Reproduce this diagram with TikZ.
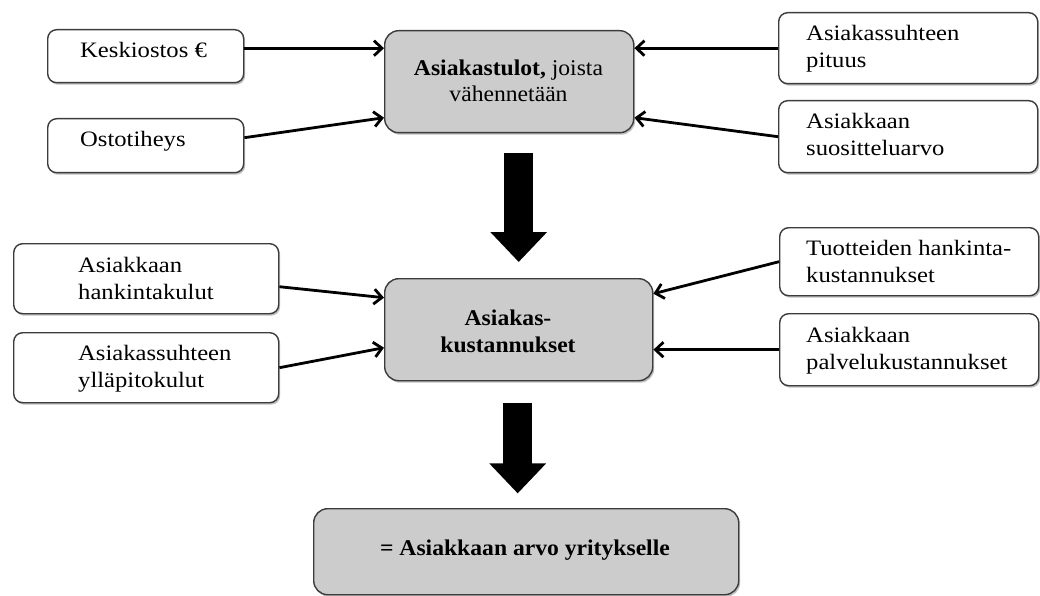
\documentclass[tikz,border=0pt]{standalone}
\usepackage{fontspec}
\setmainfont{Liberation Serif}
\newfontfamily\sidefont[FakeStretch=1.12]{Liberation Serif}
\newfontfamily\corefont[FakeStretch=1.05]{Liberation Serif}
\usetikzlibrary{arrows.meta,calc,shadows}
\definecolor{boxgray}{RGB}{204,204,204}
\definecolor{edgegray}{RGB}{60,60,60}
\tikzset{
  box/.style={draw=edgegray, line width=1.4pt, fill=white, rounded corners=9pt,
    anchor=north west, inner sep=0pt,
    drop shadow={shadow xshift=1.5pt, shadow yshift=-2pt, opacity=0.25, fill=black}},
  corebox/.style={box, fill=boxgray, rounded corners=14pt},
  % the base anchor of a multi-line label sits on its last line
  sidetext/.style={anchor=base west, inner sep=0pt, align=left,
    font=\sidefont\fontsize{22}{27}\selectfont},
  coretext/.style={anchor=base, inner sep=0pt, align=center,
    font=\corefont\fontsize{22.5}{26.5}\selectfont},
  feed/.style={line width=2.8pt, black, -{Straight Barb[length=8pt,width=15pt]}},
  flow/.style={line width=29pt, black, -{Triangle[length=30pt,width=55pt]}}
}
\begin{document}
\begin{tikzpicture}[x=1pt,y=-1pt]
\useasboundingbox (0,0) rectangle (1040,596);

% revenue inputs
\node[box, minimum width=196pt, minimum height=53pt] (k1) at (47,29) {};
\node[box, minimum width=196pt, minimum height=54pt] (k2) at (47,118) {};
\node[box, minimum width=259pt, minimum height=71pt] (r1) at (778,12) {};
\node[box, minimum width=259pt, minimum height=72pt] (r2) at (778,100) {};

% cost inputs
\node[box, minimum width=265pt, minimum height=70pt] (l3) at (13,243) {};
\node[box, minimum width=265pt, minimum height=70pt] (l4) at (13,332) {};
\node[box, minimum width=259pt, minimum height=68pt] (r3) at (779,227) {};
\node[box, minimum width=259pt, minimum height=72pt] (r4) at (779,313) {};

% central chain
\node[corebox, minimum width=249pt, minimum height=102pt] (top) at (384,30) {};
\node[corebox, minimum width=268pt, minimum height=102pt] (mid) at (384,278) {};
\node[corebox, minimum width=425pt, minimum height=86pt] (bot) at (313,508) {};

% labels
\node[sidetext] (k1t) at (80,58) {Keskiostos €};
\node[sidetext] (k2t) at (80,147) {Ostotiheys};
\node[sidetext] (r1t) at (806,68) {Asiakassuhteen\\pituus};
\node[sidetext] (r2t) at (806,156) {Asiakkaan\\suositteluarvo};
\node[sidetext] (l3t) at (78,299) {Asiakkaan\\hankintakulut};
\node[sidetext] (l4t) at (78,387) {Asiakassuhteen\\ylläpitokulut};
\node[sidetext] (r3t) at (806,282) {Tuotteiden hankinta-\\kustannukset};
\node[sidetext] (r4t) at (806,369) {Asiakkaan\\palvelukustannukset};
\node[coretext] (topt) at (508.5,102) {\textbf{Asiakastulot,} joista\\vähennetään};
\node[coretext] (midt) at (508,352) {\textbf{Asiakas-}\\\textbf{kustannukset}};
\node[coretext] (bott) at (525,555) {\textbf{= Asiakkaan arvo yritykselle}};

% feeding arrows
\draw[feed] ($(k1.east)+(0,-8)$) -- (top.west |- {$(k1.east)+(0,-8)$});
\draw[feed] ($(k2.east)+(0,-8)$) -- ($(top.west)+(0,36)$);
\draw[feed] (r1.west) -- (top.east |- r1.west);
\draw[feed] (r2.west) -- ($(top.east)+(0,36)$);
\draw[feed] ($(l3.east)+(0,8)$) -- ($(mid.west)+(0,-32)$);
\draw[feed] (l4.east) -- ($(mid.west)+(0,18)$);
\draw[feed] (r3.west) -- ($(mid.east)+(0,-36)$);
\draw[feed] (r4.west) -- (mid.east |- r4.west);

% main flow
\coordinate (f1s) at ($(mid.north)+(0,-125)$);
\coordinate (f1e) at ($(mid.north)+(0,-16)$);
\coordinate (f2s) at ($(mid.south)+(-1,22)$);
\coordinate (f2e) at ($(mid.south)+(-1,112)$);
\draw[flow] (f1s) -- (f1e);
\draw[flow] (f2s) -- (f2e);
\end{tikzpicture}
\end{document}
